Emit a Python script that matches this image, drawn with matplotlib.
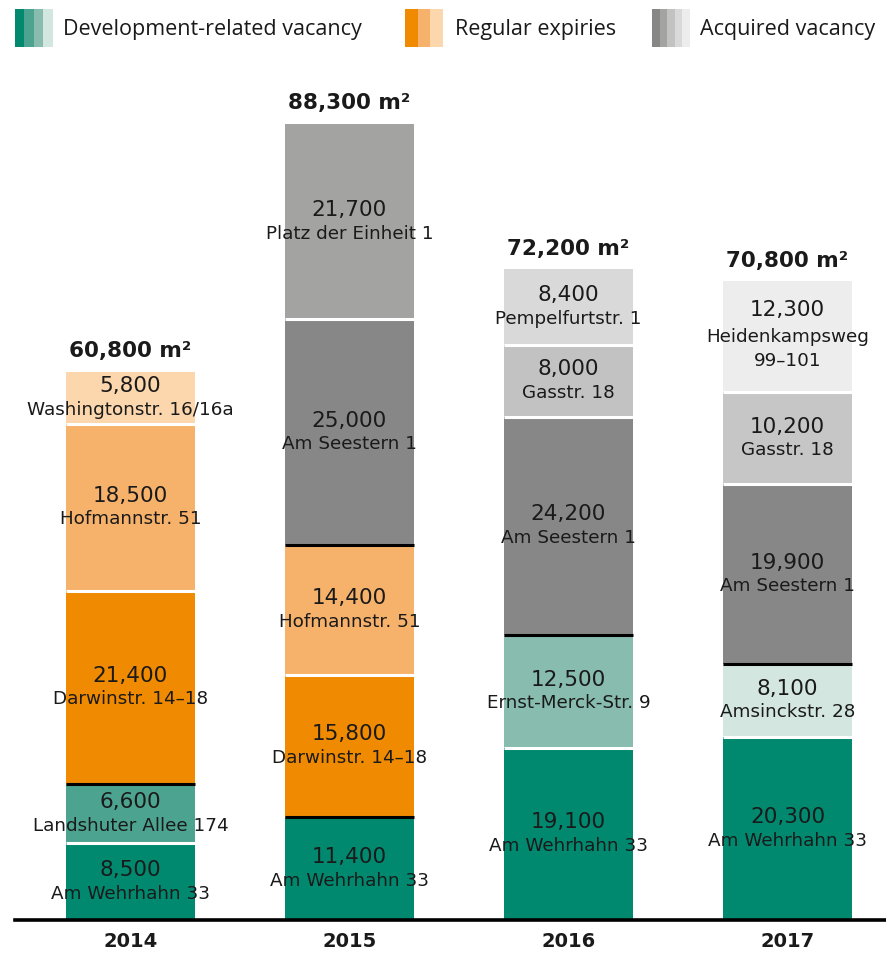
import matplotlib
matplotlib.use('Agg')
import matplotlib.pyplot as plt
from matplotlib.patches import Rectangle

plt.rcParams['font.family'] = ['DejaVu Sans']

# data, bottom to top within each year
years = ['2014', '2015', '2016', '2017']
totals = ['60,800 m²', '88,300 m²', '72,200 m²', '70,800 m²']
seg_values = [
    [8500, 6600, 21400, 18500, 5800],
    [11400, 15800, 14400, 25000, 21700],
    [19100, 12500, 24200, 8000, 8400],
    [20300, 8100, 19900, 10200, 12300],
]
seg_labels = [
    ['Am Wehrhahn 33', 'Landshuter Allee 174', 'Darwinstr. 14–18', 'Hofmannstr. 51', 'Washingtonstr. 16/16a'],
    ['Am Wehrhahn 33', 'Darwinstr. 14–18', 'Hofmannstr. 51', 'Am Seestern 1', 'Platz der Einheit 1'],
    ['Am Wehrhahn 33', 'Ernst-Merck-Str. 9', 'Am Seestern 1', 'Gasstr. 18', 'Pempelfurtstr. 1'],
    ['Am Wehrhahn 33', 'Amsinckstr. 28', 'Am Seestern 1', 'Gasstr. 18', 'Heidenkampsweg\n99–101'],
]
seg_groups = [
    ['dev', 'dev', 'reg', 'reg', 'reg'],
    ['dev', 'reg', 'reg', 'acq', 'acq'],
    ['dev', 'dev', 'acq', 'acq', 'acq'],
    ['dev', 'dev', 'acq', 'acq', 'acq'],
]
legend_names = ['Development-related vacancy', 'Regular expiries', 'Acquired vacancy']

# colours
seg_colors = [
    ['#00896f', '#4ba390', '#f08a00', '#f6b26b', '#fcd7ad'],
    ['#00896f', '#f08a00', '#f6b26b', '#878787', '#a3a3a1'],
    ['#00896f', '#87bcaf', '#878787', '#c2c2c2', '#d9d9d9'],
    ['#00896f', '#d3e7e0', '#878787', '#c6c6c6', '#ededed'],
]
legend_swatches = [
    ['#00896f', '#4ba390', '#87bcaf', '#d3e7e0'],
    ['#f08a00', '#f6b26b', '#fcd7ad'],
    ['#878787', '#a3a3a1', '#c2c2c2', '#d9d9d9', '#ededed'],
]

W, H = 887, 954
fig = plt.figure(figsize=(W / 100, H / 100), dpi=100)
ax = fig.add_axes([15 / W, 33 / H, 872 / W, (H - 60 - 33) / H])
px_per_unit = 0.00902
ax.set_xlim(-0.527, 3.454)
ax.set_ylim(0, (H - 60 - 33) / px_per_unit)
bw = 129 / 219
txt = '#1a1a1a'

for i, year in enumerate(years):
    bottom = 0
    vals = seg_values[i]
    for j, v in enumerate(vals):
        ax.bar(i, v, bottom=bottom, width=bw, color=seg_colors[i][j], linewidth=0)
        mid = bottom + v / 2
        nl = seg_labels[i][j].count('\n')
        ax.annotate(f'{v:,}', (i, mid), xytext=(0, 9 + 11 * nl), textcoords='offset points',
                    ha='center', va='center', fontsize=15.5, color=txt)
        ax.annotate(seg_labels[i][j], (i, mid), xytext=(0, -8), textcoords='offset points',
                    ha='center', va='center', fontsize=13.2, color=txt, linespacing=1.4)
        bottom += v
        if j < len(vals) - 1:
            sep = 'black' if seg_groups[i][j] != seg_groups[i][j + 1] else 'white'
            ax.hlines(bottom, i - bw / 2, i + bw / 2, color=sep, lw=2.2, zorder=3)
    ax.annotate(totals[i], (i, bottom), xytext=(0, 8), textcoords='offset points',
                ha='center', va='bottom', fontsize=15.5, fontweight='bold', color=txt)

ax.axhline(0, color='black', lw=2.6, clip_on=False, zorder=4)
ax.set_xticks(range(len(years)))
ax.set_xticklabels(years, fontsize=14, fontweight='bold', color=txt)
ax.tick_params(axis='x', length=0, pad=8)
ax.set_yticks([])
for s in ax.spines.values():
    s.set_visible(False)

# legend drawn in pixel space across the top
lax = fig.add_axes([0, 0, 1, 1], facecolor='none')
lax.set_xlim(0, W)
lax.set_ylim(H, 0)
lax.axis('off')
lx = [15, 405, 652]
tx = [63, 455, 700]
for k, name in enumerate(legend_names):
    sw = legend_swatches[k]
    step = 38 / len(sw)
    for m, c in enumerate(sw):
        lax.add_patch(Rectangle((lx[k] + m * step, 10), step + 0.3, 38, color=c, lw=0))
    lax.text(tx[k], 29, name, fontsize=15.5, color=txt, va='center', ha='left',
             family=['Open Sans', 'DejaVu Sans'])

fig.savefig('out.png', dpi=100)
